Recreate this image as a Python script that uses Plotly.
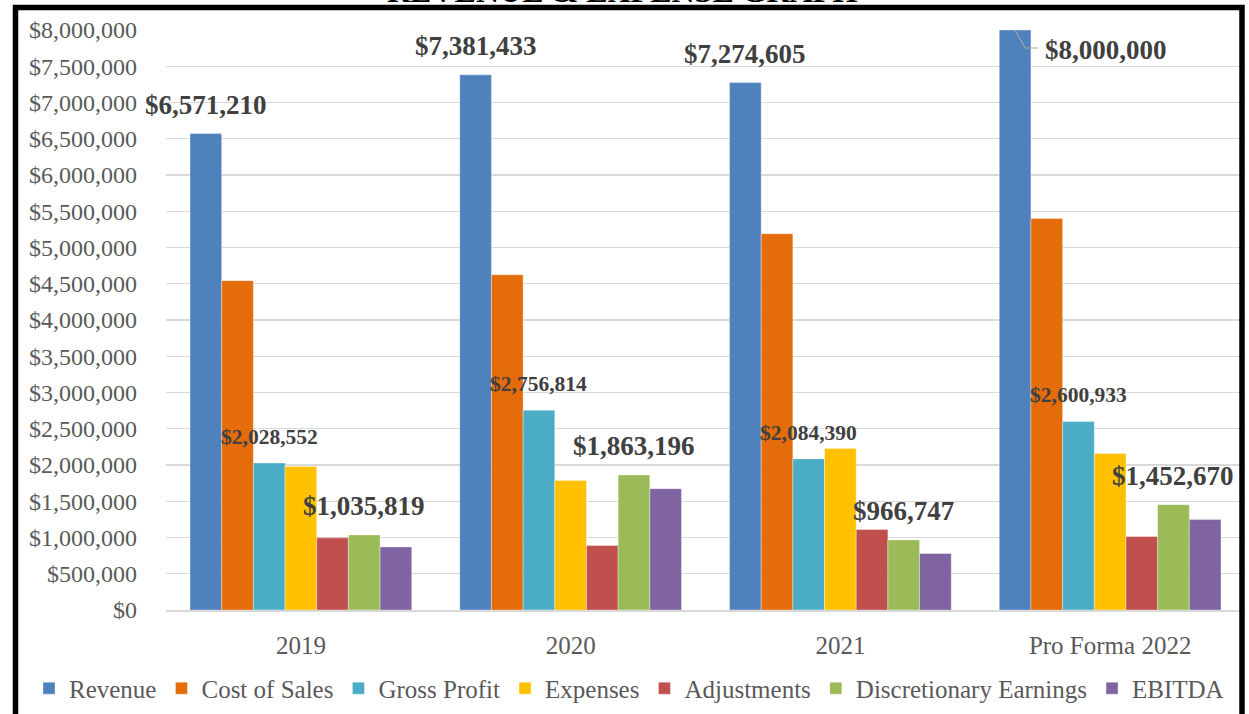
import plotly.graph_objects as go

# ---------------- data ----------------
categories = ["2019", "2020", "2021", "Pro Forma 2022"]
revenue = [6571210, 7381433, 7274605, 8000000]
cost_of_sales = [4542658, 4624619, 5190215, 5399067]
gross_profit = [2028552, 2756814, 2084390, 2600933]
expenses = [1980000, 1785000, 2226000, 2157000]
adjustments = [995000, 889000, 1109000, 1013000]
discretionary_earnings = [1035819, 1863196, 966747, 1452670]
ebitda = [870000, 1674000, 779000, 1247000]

series_names = ["Revenue", "Cost of Sales", "Gross Profit", "Expenses",
                "Adjustments", "Discretionary Earnings", "EBITDA"]
series_values = [revenue, cost_of_sales, gross_profit, expenses,
                 adjustments, discretionary_earnings, ebitda]
colors = ["#4F81BD", "#E46C0A", "#4BACC6", "#FFC000",
          "#C0504D", "#9BBB59", "#8064A2"]

title_text = "REVENUE & EXPENSE GRAPH"

# ---------------- layout geometry ----------------
FW, FH = 1249, 714
L, T, W, H = 166, 30, 1079, 580.5
BARGAP = 0.178
FONT = "Liberation Serif, Times New Roman, serif"
TXT = "#595959"
LBL = "#404040"


def px_x(p):
    return (p - L) / W


def px_y(p):
    return (T + H - p) / H


fig = go.Figure()
for name, vals, col in zip(series_names, series_values, colors):
    fig.add_trace(go.Bar(
        name=name, x=list(range(len(categories))), y=vals,
        marker=dict(color=col, line=dict(color="rgba(255,255,255,0.45)", width=0.8)),
        hoverinfo="skip",
    ))

n = len(series_names)
bw = (1 - BARGAP) / n


def bar_x(i, j):
    return i + (j - (n - 1) / 2) * bw


annotations = []
shapes = []

# data labels: revenue, gross profit, discretionary earnings
label_specs = [(0, revenue, 27), (2, gross_profit, 21.5), (5, discretionary_earnings, 27)]
for j, vals, fs in label_specs:
    for i, v in enumerate(vals):
        txt = f"${v:,.0f}"
        if j == 0 and i == len(vals) - 1:
            # leader-line label on the capped bar
            annotations.append(dict(
                x=bar_x(i, j), y=v, xref="x", yref="y", text=txt, showarrow=False,
                xanchor="left", yanchor="middle", xshift=28, yshift=-20,
                font=dict(family=FONT, size=fs, color=LBL, weight="bold")))
            shapes.append(dict(
                type="path", xref="x", yref="y", xsizemode="pixel", ysizemode="pixel",
                xanchor=bar_x(i, j), yanchor=v, path="M0,0 L10,-18 L23,-18",
                line=dict(color="#A6A6A6", width=1.2), layer="above"))
        else:
            annotations.append(dict(
                x=bar_x(i, j), y=v, xref="x", yref="y", text=txt, showarrow=False,
                xanchor="center", yanchor="bottom", yshift=12,
                font=dict(family=FONT, size=fs, color=LBL, weight="bold")))

# title (mostly cut off at top, as in the original)
annotations.append(dict(
    x=px_x(622), y=px_y(11), xref="paper", yref="paper", text=title_text,
    showarrow=False, xanchor="center", yanchor="bottom",
    font=dict(family=FONT, size=32, color="#000000", weight="bold")))

# black frame
shapes.append(dict(
    type="rect", xref="paper", yref="paper",
    x0=px_x(15.5), x1=px_x(1242), y0=px_y(725), y1=px_y(7.5),
    line=dict(color="#000000", width=5.5), fillcolor="rgba(0,0,0,0)", layer="above"))

fig.update_layout(
    width=FW, height=FH,
    margin=dict(l=L, r=FW - L - W, t=T, b=FH - T - H, autoexpand=False),
    paper_bgcolor="white", plot_bgcolor="white",
    barmode="group", bargap=BARGAP, bargroupgap=0,
    font=dict(family=FONT, size=24, color=TXT),
    showlegend=True,
    legend=dict(orientation="h", x=px_x(29), xanchor="left", y=px_y(689), yanchor="middle",
                font=dict(family=FONT, size=25, color=TXT), traceorder="normal",
                itemclick=False, bgcolor="rgba(0,0,0,0)"),
    annotations=annotations, shapes=shapes,
)
fig.update_xaxes(
    tickmode="array", tickvals=list(range(len(categories))), ticktext=categories,
    range=[-0.5, len(categories) - 0.5],
    showgrid=False, zeroline=False, showline=True, linecolor="#D9D9D9", linewidth=1.5,
    ticks="", ticklabelstandoff=12, automargin=False,
    tickfont=dict(family=FONT, size=25, color=TXT))
fig.update_yaxes(
    range=[0, 8000000], dtick=500000, tickformat="$,.0f",
    showgrid=True, gridcolor="#D9D9D9", gridwidth=1.3, zeroline=False, showline=False,
    ticks="", ticklabelstandoff=28, automargin=False,
    tickfont=dict(family=FONT, size=24, color=TXT))

fig.write_html(
    "out.html",
    config={"displayModeBar": False, "staticPlot": True},
    post_script="document.body.style.margin='0';document.body.style.overflow='hidden';",
)
